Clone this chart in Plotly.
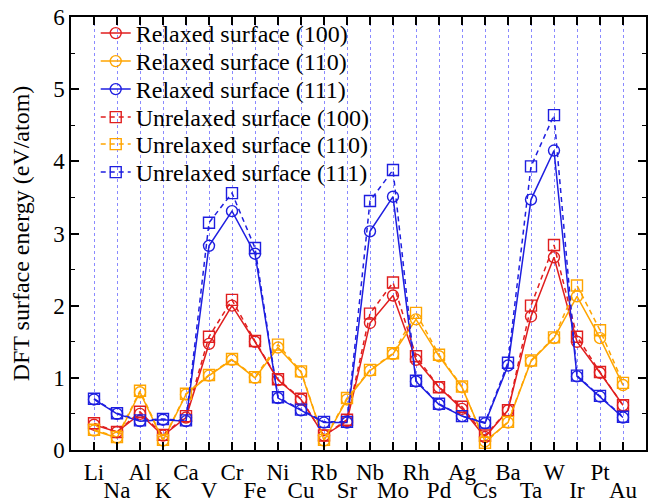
import plotly.graph_objects as go

elements = ["Li","Na","Al","K","Ca","V","Cr","Fe","Ni","Cu","Rb","Sr",
            "Nb","Mo","Rh","Pd","Ag","Cs","Ba","Ta","W","Ir","Pt","Au"]

rel_100 = [0.35,0.25,0.50,0.20,0.45,1.47,2.00,1.50,0.97,0.70,0.20,0.40,
           1.76,2.14,1.25,0.87,0.57,0.18,0.55,1.85,2.67,1.50,1.07,0.62]
rel_110 = [0.27,0.17,0.80,0.13,0.77,1.03,1.25,1.00,1.42,1.08,0.13,0.70,
           1.10,1.33,1.81,1.30,0.87,0.12,0.38,1.23,1.55,2.13,1.55,0.90]
rel_111 = [0.70,0.50,0.40,0.42,0.40,2.83,3.31,2.72,0.72,0.55,0.38,0.38,
           3.03,3.51,0.95,0.63,0.47,0.37,1.17,3.47,4.15,1.02,0.74,0.45]
unr_100 = [0.37,0.25,0.53,0.21,0.47,1.57,2.08,1.51,0.98,0.71,0.20,0.42,
           1.89,2.32,1.30,0.87,0.60,0.20,0.55,2.00,2.84,1.57,1.08,0.62]
unr_110 = [0.28,0.18,0.82,0.14,0.78,1.04,1.26,1.01,1.46,1.09,0.14,0.72,
           1.11,1.34,1.90,1.32,0.88,0.10,0.39,1.24,1.56,2.28,1.66,0.93]
unr_111 = [0.71,0.51,0.41,0.43,0.41,3.15,3.56,2.80,0.73,0.56,0.39,0.39,
           3.45,3.88,0.96,0.64,0.47,0.38,1.21,3.93,4.64,1.03,0.75,0.46]

series_names = ["Relaxed surface (100)", "Relaxed surface (110)", "Relaxed surface (111)",
                "Unrelaxed surface (100)", "Unrelaxed surface (110)", "Unrelaxed surface (111)"]
RED, ORANGE, BLUE = "#e01e1e", "#ffa500", "#1e1ee0"

xidx = list(range(len(elements)))
FONT = "Liberation Serif, Times New Roman, serif"

# plot area geometry (px) for placing the per-row legends
PLOT_TOP, PLOT_BOTTOM = 17, 450
legend_rows_px = [33.5, 61.5, 89.5, 117.5, 144.5, 172.5]
legend_ids = ["legend", "legend2", "legend3", "legend4", "legend5", "legend6"]

fig = go.Figure()
specs = [
    (rel_100, RED, "solid", "circle-open"),
    (rel_110, ORANGE, "solid", "circle-open"),
    (rel_111, BLUE, "solid", "circle-open"),
    (unr_100, RED, "5px,4px", "square-open"),
    (unr_110, ORANGE, "5px,4px", "square-open"),
    (unr_111, BLUE, "5px,4px", "square-open"),
]
for name, lid, (vals, col, dash, sym) in zip(series_names, legend_ids, specs):
    fig.add_trace(go.Scatter(
        x=xidx, y=vals, name=name, mode="lines+markers", legend=lid,
        line=dict(color=col, width=1.5, dash=dash),
        marker=dict(symbol=sym, size=11, color=col, line=dict(width=1.4, color=col)),
    ))

# invisible helper trace so the second label row axis is drawn
fig.add_trace(go.Scatter(x=[0], y=[-1], xaxis="x2", showlegend=False,
                         mode="markers", marker=dict(opacity=0), hoverinfo="skip"))

top_text = [e if i % 2 == 0 else "" for i, e in enumerate(elements)]
bot_vals = [i for i in xidx if i % 2 == 1]
bot_text = [elements[i] for i in bot_vals]

legend_layouts = {}
for lid, py in zip(legend_ids, legend_rows_px):
    legend_layouts[lid] = dict(
        x=0.043, y=(PLOT_BOTTOM - py) / (PLOT_BOTTOM - PLOT_TOP),
        xanchor="left", yanchor="middle",
        bgcolor="rgba(0,0,0,0)", borderwidth=0,
        font=dict(family=FONT, size=24, color="black"),
    )

fig.update_layout(
    width=648, height=504,
    margin=dict(l=71, r=0, t=17, b=54),
    paper_bgcolor="white", plot_bgcolor="white",
    font=dict(family=FONT, size=23, color="black"),
    showlegend=True,
    **legend_layouts,
    xaxis=dict(
        range=[-1, 24], tickvals=xidx, ticktext=top_text,
        ticks="inside", ticklen=8, tickwidth=1.5, tickcolor="black",
        showline=True, linecolor="black", linewidth=1.5, mirror="ticks",
        showgrid=True, gridcolor="#8a8aff", griddash="dot", gridwidth=1,
        zeroline=False, tickfont=dict(family=FONT, size=23),
        ticklabelstandoff=1,
    ),
    xaxis2=dict(
        range=[-1, 24], overlaying="x", anchor="y", side="bottom",
        tickvals=bot_vals, ticktext=bot_text, ticks="",
        showline=False, showgrid=False, zeroline=False,
        tickfont=dict(family=FONT, size=23), ticklabelstandoff=24,
    ),
    yaxis=dict(
        range=[0, 6], dtick=1, tick0=0,
        ticks="inside", ticklen=8, tickwidth=1.5, tickcolor="black",
        minor=dict(dtick=0.5, ticks="inside", ticklen=4, tickcolor="black", tickwidth=1.2),
        showline=True, linecolor="black", linewidth=1.5, mirror="ticks",
        showgrid=False, zeroline=False,
        tickfont=dict(family=FONT, size=23),
        title=dict(text="DFT surface energy (eV/atom)", font=dict(family=FONT, size=24), standoff=17),
    ),
)

fig.write_html("out.html")
